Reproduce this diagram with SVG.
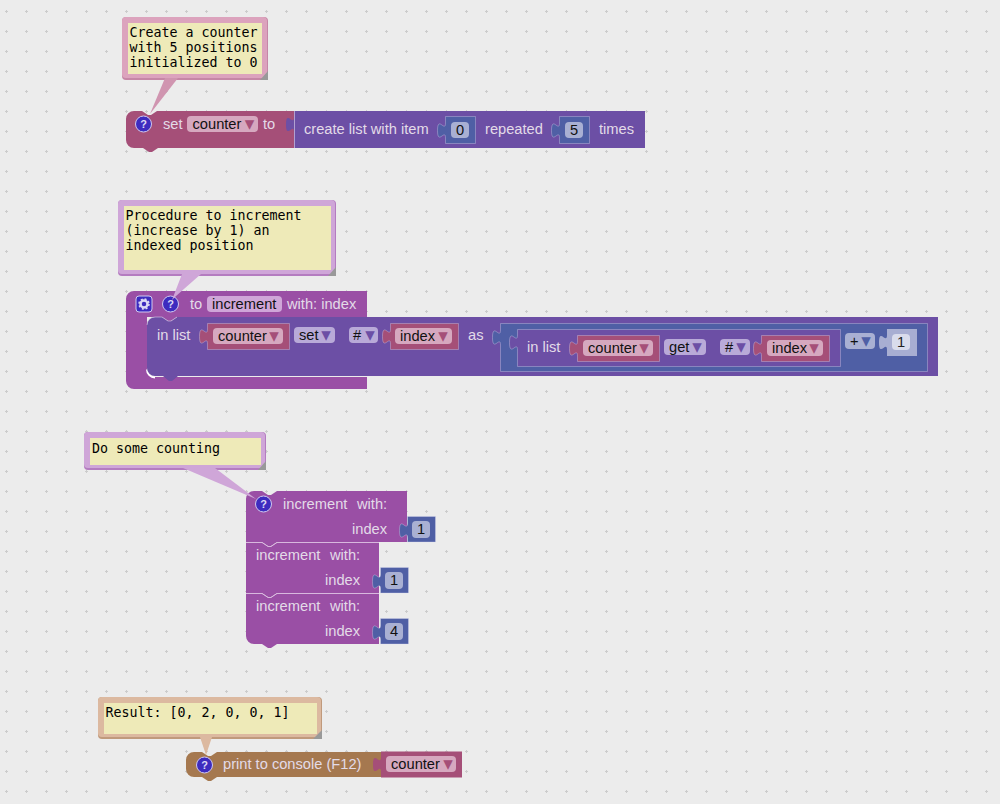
<svg xmlns="http://www.w3.org/2000/svg" width="1000" height="804" viewBox="0 0 1000 804">
<style>
text{font-family:"Liberation Sans",Arial,sans-serif;font-size:14.67px;fill:#e3dbe8}
.f{fill:#111}
.m{font-family:"DejaVu Sans Mono","Liberation Mono",monospace;font-size:13.3px;fill:#000}
.c{text-anchor:middle}
.q{font-size:11px;font-weight:bold;fill:#dcd8f5;text-anchor:middle;font-family:"Liberation Sans",sans-serif}
.ar{font-family:"Noto Sans CJK JP","DejaVu Sans",sans-serif;font-size:19px;text-anchor:middle}
.pink{fill:#a54f78}.plist{fill:#6c4fa5}.proc{fill:#9a4fa5}.math{fill:#4f5fa5}.brown{fill:#a5784f}.pale{fill:#a8aed2}
.vd{stroke:#dcdcf0;stroke-opacity:.35;stroke-width:1}
.fp{fill:#d6a8bf}.fl{fill:#b9aad8}.fm{fill:#a9b0d3}.fw{fill:#d9dcec}.fo{fill:#c9a5d0}
.note{fill:#eeeab8}
.bpd{fill:#c687a6}.bp{fill:#dca3bd}
.bod{fill:#b47cc0}.bo{fill:#cfa6d8}
.bbd{fill:#c09a7c}.bb{fill:#dcb9a0}
.rz{fill:#999}
.ic{fill:#3d2bbf;stroke:#cfcaf0;stroke-width:1}
</style>
<defs>
<pattern id="grid" width="20" height="20" patternUnits="userSpaceOnUse" x="-4" y="1">
<path d="M10 9h1v3h-1zM9 10h3v1h-3z" fill="#ccc"/>
</pattern>
</defs>
<rect width="1000" height="804" fill="#ececec"/>
<rect width="1000" height="804" fill="url(#grid)"/>

<g id="set-counter">
<path class="pink" d="M126 119a8 8 0 0 1 8-8h8l6 4h3l6-4H294V148H158l-6 4h-3l-6-4H134a8 8 0 0 1-8-8z"/>
<path class="plist" d="M294 117c0 10-8-8-8 7.500s8-2.500 8 7.500z"/>
<circle class="ic" cx="143.500" cy="124" r="8"/><text class="q" x="143.500" y="128">?</text>
<text x="163" y="129">set</text>
<rect class="fp" x="187" y="116" width="71" height="16" rx="4"/>
<text class="f" x="192.500" y="129">counter</text><text class="ar" x="249.500" y="130" style="fill:#a54f78">▾</text>
<text x="263" y="129">to</text>
</g>
<g id="create-list">
<rect class="plist" x="294" y="111" width="351" height="37"/>
<rect x="294" y="111" width="1" height="37" fill="#e0d8ef" fill-opacity=".6"/>
<text x="304" y="134">create list with item</text>
<text x="485" y="134">repeated</text>
<text x="599" y="134">times</text>
</g>
<g id="num-0">
<path class="math vd" d="M445.500 116.500H475.500V143.500H445.500V138c0-10-8 8-8-7.500s8 2.500 8-7.500z"/>
<rect class="fm" x="451" y="122" width="18" height="16" rx="4"/><text class="f c" x="460" y="135">0</text>
</g>
<g id="num-5">
<path class="math vd" d="M559.500 116.500H589.500V143.500H559.500V138c0-10-8 8-8-7.500s8 2.500 8-7.500z"/>
<rect class="fm" x="565" y="122" width="18" height="16" rx="4"/><text class="f c" x="574" y="135">5</text>
</g>

<g id="proc-increment">
<path class="proc" d="M126 299a8 8 0 0 1 8-8H367V317H162l6 4h3l6-4H147V369a8 8 0 0 0 8 8H367V389H134a8 8 0 0 1-8-8z"/>
<rect x="136" y="296" width="16" height="16" rx="3" fill="#3d2bbf" stroke="#cfcaf0"/>
<circle cx="144" cy="304" r="3.500" fill="none" stroke="#dcd8f5" stroke-width="2.500"/>
<circle cx="144" cy="304" r="5" fill="none" stroke="#dcd8f5" stroke-width="1.500" stroke-dasharray="2 1.930"/>
<circle class="ic" cx="170.500" cy="304" r="8"/><text class="q" x="170.500" y="308">?</text>
<text x="190" y="309">to</text>
<rect x="207" y="296" width="75" height="16" rx="4" fill="#cfa6d8"/>
<text class="f" x="212" y="309">increment</text>
<text x="287" y="309">with: index</text>
</g>
<g id="list-set">
<path d="M155 377.500a8 8 0 0 1-8-8" fill="none" stroke="#fff" stroke-width="2"/>
<path class="plist" d="M147 325a8 8 0 0 1 8-8h7l6 4h3l6-4H938V376H178l-6 5h-3l-6-5H155a8 8 0 0 1-8-8z"/>
<path d="M147 325a8 8 0 0 1 8-8h7l6 4h3l6-4" fill="none" stroke="#d8cde8" stroke-opacity=".6"/>
<text x="157" y="340">in list</text>
<rect class="fl" x="294" y="327" width="41" height="16" rx="4"/>
<text class="f" x="299" y="340">set</text><text class="ar" x="326" y="341" style="fill:#6c4fa5">▾</text>
<rect class="fl" x="349" y="327" width="29" height="16" rx="4"/>
<text class="f" x="353" y="340">#</text><text class="ar" x="370" y="341" style="fill:#6c4fa5">▾</text>
<text x="468" y="340">as</text>
</g>
<g id="var-counter-1">
<path class="pink vd" d="M207.500 323.500H289.500V349.500H207.500V344c0-10-8 8-8-7.500s8 2.500 8-7.500z"/>
<rect class="fp" x="213" y="328" width="70" height="16" rx="4"/>
<text class="f" x="218" y="341">counter</text><text class="ar" x="274" y="342" style="fill:#a54f78">▾</text>
</g>
<g id="var-index-1">
<path class="pink vd" d="M390.500 323.500H458.500V349.500H390.500V344c0-10-8 8-8-7.500s8 2.500 8-7.500z"/>
<rect class="fp" x="395" y="328" width="57" height="16" rx="4"/>
<text class="f" x="400" y="341">index</text><text class="ar" x="443" y="342" style="fill:#a54f78">▾</text>
</g>
<g id="math-add">
<path class="math vd" d="M500.500 323.500H927.500V371.500H500.500V345c0-10-8 8-8-7.500s8 2.500 8-7.500z"/>
<rect class="fm" x="845" y="333" width="30" height="16" rx="4"/>
<text class="f" x="850" y="346">+</text><text class="ar" x="866" y="347" style="fill:#4f5fa5">▾</text>
</g>
<g id="list-get">
<path class="plist vd" d="M517.500 329.500H840.500V366.500H517.500V350c0-10-8 8-8-7.500s8 2.500 8-7.500z"/>
<text x="527" y="352">in list</text>
<rect class="fl" x="664" y="339" width="42" height="16" rx="4"/>
<text class="f" x="669" y="352">get</text><text class="ar" x="697" y="353" style="fill:#6c4fa5">▾</text>
<rect class="fl" x="720" y="339" width="30" height="16" rx="4"/>
<text class="f" x="725" y="352">#</text><text class="ar" x="741" y="353" style="fill:#6c4fa5">▾</text>
</g>
<g id="var-counter-2">
<path class="pink vd" d="M577.500 335.500H659.500V361.500H577.500V356c0-10-8 8-8-7.500s8 2.500 8-7.500z"/>
<rect class="fp" x="583" y="340" width="70" height="16" rx="4"/>
<text class="f" x="588" y="353">counter</text><text class="ar" x="644" y="354" style="fill:#a54f78">▾</text>
</g>
<g id="var-index-2">
<path class="pink vd" d="M761.500 335.500H829.500V361.500H761.500V356c0-10-8 8-8-7.500s8 2.500 8-7.500z"/>
<rect class="fp" x="767" y="340" width="56" height="16" rx="4"/>
<text class="f" x="772" y="353">index</text><text class="ar" x="814" y="354" style="fill:#a54f78">▾</text>
</g>
<g id="num-1-add">
<path class="pale" d="M887 329H917V356H887V350c0-10-8 8-8-7.500s8 2.500 8-7.500z"/>
<rect class="fw" x="892" y="334" width="18" height="16" rx="4"/><text class="c" x="901" y="347" style="fill:#222">1</text>
</g>

<g id="call-1">
<path class="proc" d="M246 499a8 8 0 0 1 8-8h8l6 4h3l6-4H407V542H277l-6 4h-3l-6-4H246z"/>
<circle class="ic" cx="263.500" cy="504" r="8"/><text class="q" x="263.500" y="508">?</text>
<text x="283" y="509">increment</text><text x="357" y="509">with:</text>
<text x="352" y="534">index</text>
<path class="math vd" d="M407.500 516.500H435.500V542H407.500V538c0-10-8 8-8-7.500s8 2.500 8-7.500z"/>
<rect class="fm" x="412" y="521" width="18" height="17" rx="4"/><text class="f c" x="421" y="534">1</text>
</g>
<g id="call-2">
<path class="proc" d="M246 542.500H262l6 4h3l6-4H379V593H277l-6 4h-3l-6-4H246z"/>
<path d="M246 542.500H262l6 4h3l6-4H379" fill="none" stroke="#d8b8de"/>
<text x="256" y="560">increment</text><text x="330" y="560">with:</text>
<text x="325" y="585">index</text>
<path class="math vd" d="M380.500 567.500H408.500V593H380.500V589c0-10-8 8-8-7.500s8 2.500 8-7.500z"/>
<rect class="fm" x="385" y="572" width="18" height="17" rx="4"/><text class="f c" x="394" y="585">1</text>
</g>
<g id="call-3">
<path class="proc" d="M246 593.500H262l6 4h3l6-4H379V644H277l-6 4h-3l-6-4H254a8 8 0 0 1-8-8z"/>
<path d="M246 593.500H262l6 4h3l6-4H379" fill="none" stroke="#d8b8de"/>
<text x="256" y="611">increment</text><text x="330" y="611">with:</text>
<text x="325" y="636">index</text>
<path class="math vd" d="M380.500 618.500H408.500V644H380.500V640c0-10-8 8-8-7.500s8 2.500 8-7.500z"/>
<rect class="fm" x="385" y="623" width="18" height="17" rx="4"/><text class="f c" x="394" y="636">4</text>
</g>

<g id="print">
<path class="brown" d="M186 760a8 8 0 0 1 8-8h8l6 4h3l6-4H381V777H217l-6 4h-3l-6-4H194a8 8 0 0 1-8-8z"/>
<circle class="ic" cx="204.500" cy="765" r="8"/><text class="q" x="204.500" y="769">?</text>
<text x="223" y="769">print to console (F12)</text>
</g>
<g id="var-counter-3">
<path class="pink" d="M381 751.500H462V777.500H381V772c0-10-8 8-8-7.500s8 2.500 8-7.500z"/>
<rect class="fp" x="386" y="756" width="70" height="16" rx="4"/>
<text class="f" x="391" y="769">counter</text><text class="ar" x="448" y="770" style="fill:#a54f78">▾</text>
</g>

<g id="comment-1">
<rect class="bpd" x="122" y="17" width="146" height="63" rx="4"/>
<rect class="bp" x="122" y="17" width="145" height="61" rx="4"/>
<rect class="note" x="128" y="23" width="134" height="51"/>
<path class="rz" d="M268 71V80H260z"/>
<text class="m" x="129.500" y="37">Create a counter</text>
<text class="m" x="129.500" y="52">with 5 positions</text>
<text class="m" x="129.500" y="67">initialized to 0</text>
</g>
<g id="comment-2">
<rect class="bod" x="118" y="200" width="218" height="76" rx="4"/>
<rect class="bo" x="118" y="200" width="217" height="74" rx="4"/>
<rect class="note" x="124" y="206" width="207" height="64"/>
<path class="rz" d="M336 267V276H328z"/>
<text class="m" x="125.500" y="220">Procedure to increment</text>
<text class="m" x="125.500" y="235">(increase by 1) an</text>
<text class="m" x="125.500" y="250">indexed position</text>
</g>
<g id="comment-3">
<rect class="bod" x="84" y="432" width="182" height="38" rx="4"/>
<rect class="bo" x="84" y="432" width="181" height="36" rx="4"/>
<rect class="note" x="90" y="438" width="171" height="27"/>
<path class="rz" d="M266 461V470H258z"/>
<text class="m" x="92" y="453">Do some counting</text>
</g>
<g id="comment-4">
<rect class="bbd" x="98" y="697" width="224" height="42" rx="4"/>
<rect class="bb" x="98" y="697" width="223" height="40" rx="4"/>
<rect class="note" x="104" y="703" width="213" height="31"/>
<path class="rz" d="M322 730V739H313z"/>
<text class="m" x="105.500" y="717">Result: [0, 2, 0, 0, 1]</text>
</g>

<g id="connectors">
<path d="M165 78H178L150 114z" fill="#d095b0"/>
<path d="M182 274H201L176 296l-4 4z" fill="#cfa6d8"/>
<path d="M183 468H215L256 499z" fill="#cfa6d8"/>
<path d="M200 737H212L206 755z" fill="#dcb9a0"/>
</g>
</svg>
